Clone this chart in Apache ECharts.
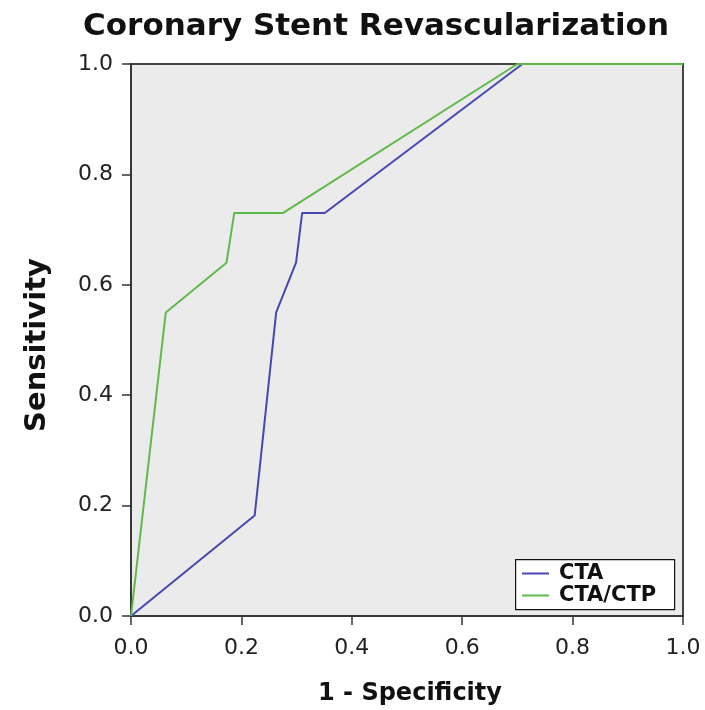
<!DOCTYPE html>
<html>
<head>
<meta charset="utf-8">
<script src="https://cdn.jsdelivr.net/npm/echarts@6/dist/echarts.min.js"></script>
<style>
html,body{margin:0;padding:0;background:#fff;}
#c{width:705px;height:710px;}
</style>
</head>
<body>
<div id="c"></div>
<script>
var titleText = 'Coronary Stent Revascularization';
var xName = '1 - Specificity';
var yName = 'Sensitivity';
var seriesNames = ['CTA', 'CTA/CTP'];
var ctaX = [0, 0.224, 0.263, 0.299, 0.310, 0.351, 0.709, 1.0];
var ctaY = [0, 0.182, 0.550, 0.640, 0.730, 0.730, 1.0, 1.0];
var ctpX = [0, 0.063, 0.173, 0.187, 0.275, 0.700, 1.0];
var ctpY = [0, 0.550, 0.640, 0.730, 0.730, 1.0, 1.0];
var tickValues = [0, 0.2, 0.4, 0.6, 0.8, 1.0];

function pairs(xs, ys){ return xs.map(function(x,i){ return [x, ys[i]]; }); }

var FONT = 'DejaVu Sans';
var chart = echarts.init(document.getElementById('c'), null, {renderer:'canvas'});
var axisCommon = {
  type: 'value', min: 0, max: 1, interval: 0.2,
  axisLine: {show: true, onZero: false, lineStyle: {color: '#333', width: 1.5}},
  axisTick: {show: true, inside: false, length: 9, lineStyle: {color: '#333', width: 1.5}},
  splitLine: {show: false},
  axisLabel: {fontFamily: FONT, fontSize: 22, color: '#222',
    formatter: function(v){ return v.toFixed(1); }}
};
var option = {
  animation: false,
  backgroundColor: '#ffffff',
  grid: {left: 131, right: 22, top: 64, bottom: 94, show: true,
    backgroundColor: '#ebebeb', borderColor: '#444', borderWidth: 2},
  xAxis: Object.assign({}, axisCommon, {axisLabel: Object.assign({}, axisCommon.axisLabel, {margin: 21})}),
  yAxis: Object.assign({}, axisCommon, {axisLabel: Object.assign({}, axisCommon.axisLabel, {margin: 18})}),
  legend: {
    show: true, orient: 'vertical', left: 515, top: 561, z: 5,
    padding: [2, 8, 2, 7], itemGap: 1, itemWidth: 27, itemHeight: 2, icon: 'rect',
    textStyle: {fontFamily: FONT, fontWeight: 'bold', fontSize: 21, color: '#111', lineHeight: 18, padding: [0,0,0,5]},
    data: seriesNames
  },
  series: [
    {name: seriesNames[0], type: 'line', data: pairs(ctaX, ctaY), showSymbol: false, symbol: 'none',
     lineStyle: {color: '#4747b3', width: 2}, itemStyle: {color: '#4747b3'}, z: 3},
    {name: seriesNames[1], type: 'line', data: pairs(ctpX, ctpY), showSymbol: false, symbol: 'none',
     lineStyle: {color: '#5fba4a', width: 2}, itemStyle: {color: '#5fba4a'}, z: 3}
  ],
  graphic: [
    {type: 'rect', left: 515, top: 559, z: 4, shape: {width: 159, height: 50},
     style: {fill: '#ffffff', stroke: '#111', lineWidth: 1.2}},
    {type: 'text', x: 376, y: 27, z: 5, style: {text: titleText, fontFamily: FONT, fontWeight: 'bold',
      fontSize: 31, fill: '#111', align: 'center', verticalAlign: 'middle'}},
    {type: 'text', x: 410, y: 694, z: 5, style: {text: xName, fontFamily: FONT, fontWeight: 'bold',
      fontSize: 24, fill: '#111', align: 'center', verticalAlign: 'middle'}},
    {type: 'text', x: 37, y: 345, rotation: Math.PI/2, z: 5, style: {text: yName, fontFamily: FONT, fontWeight: 'bold',
      fontSize: 29, fill: '#111', align: 'center', verticalAlign: 'middle'}}
  ]
};
chart.setOption(option);
</script>
</body>
</html>
